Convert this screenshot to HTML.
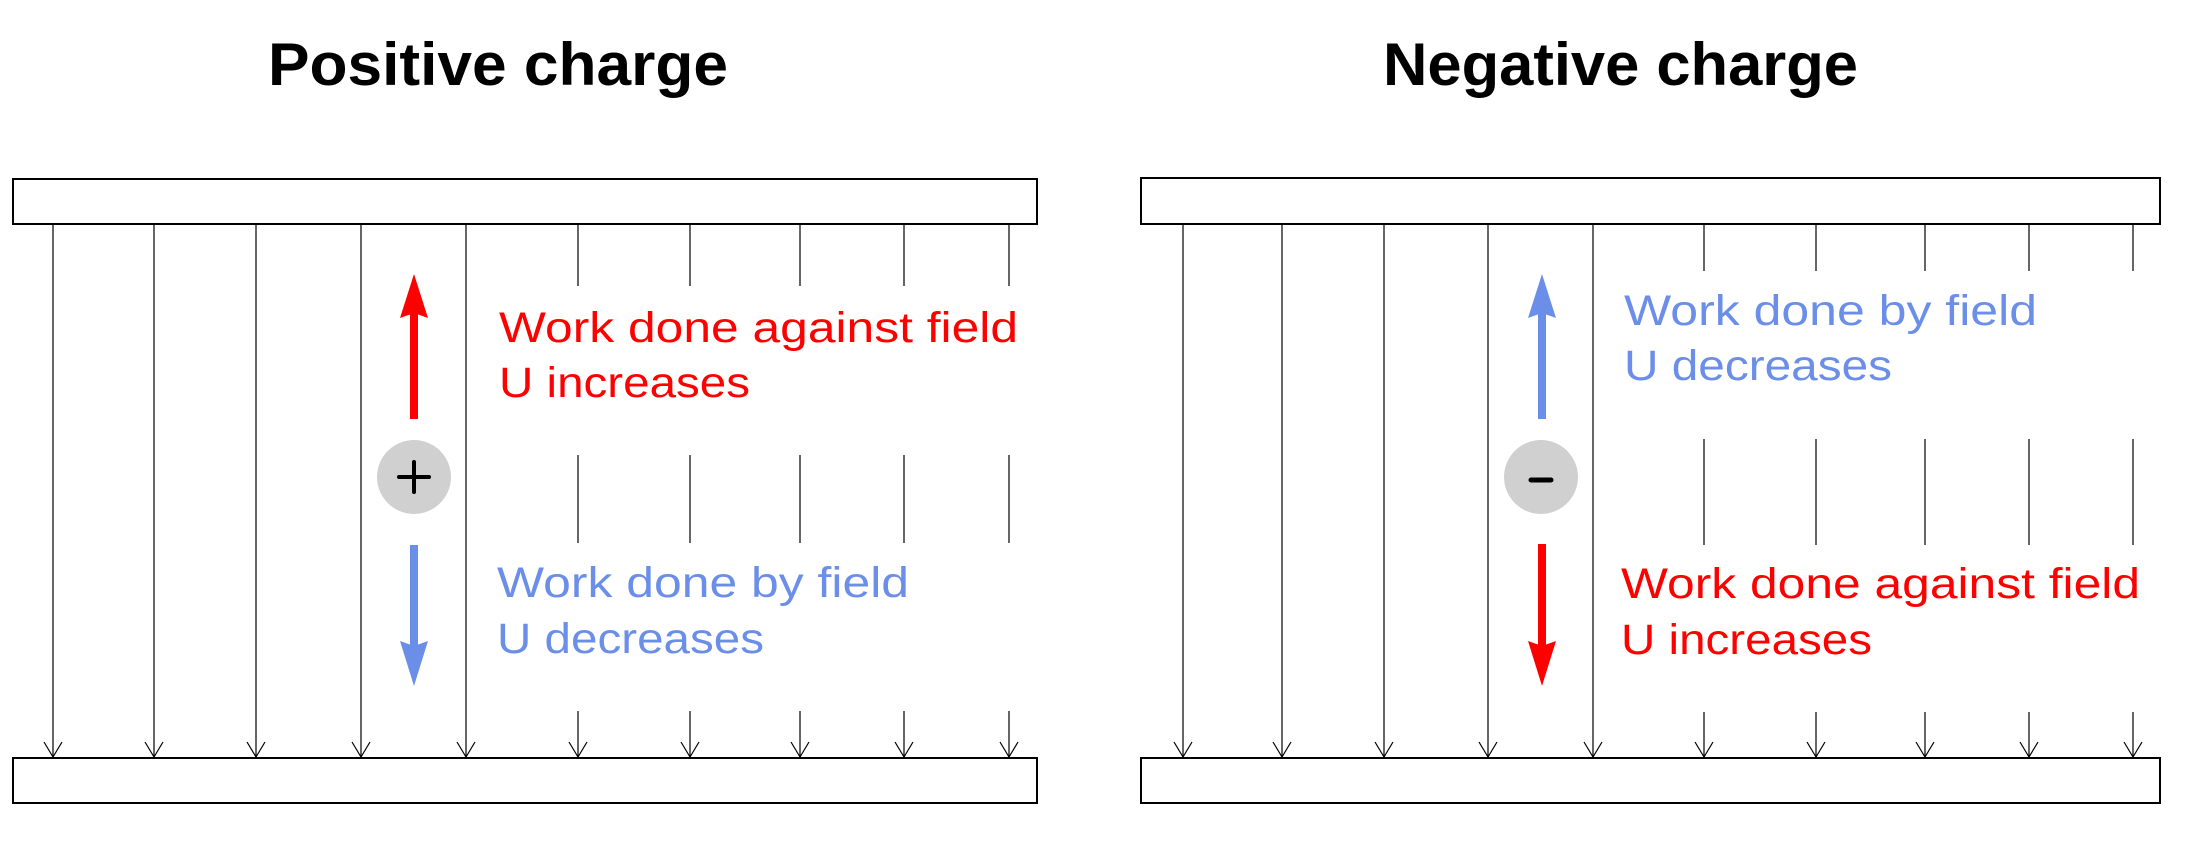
<!DOCTYPE html>
<html><head><meta charset="utf-8"><style>html,body{margin:0;padding:0;background:#fff}svg{display:block}</style></head>
<body>
<svg width="2208" height="852" viewBox="0 0 2208 852" xmlns="http://www.w3.org/2000/svg" font-family="Liberation Sans, sans-serif">
<text x="268" y="85" font-size="60" font-weight="bold" textLength="460" lengthAdjust="spacingAndGlyphs">Positive charge</text>
<text x="1383" y="85" font-size="60" font-weight="bold" textLength="475" lengthAdjust="spacingAndGlyphs">Negative charge</text>

<g fill="#fff" stroke="#000" stroke-width="2">
<rect x="13" y="179" width="1024" height="45"/>
<rect x="13" y="758" width="1024" height="45"/>
<rect x="1141" y="178" width="1019" height="46"/>
<rect x="1141" y="758" width="1019" height="45"/>
</g>

<g stroke="#000" stroke-width="1.2" fill="none">
<path d="M53,225V757 M154,225V757 M256,225V757 M361,225V757 M466,225V757"/>
<path d="M578,225V286 M690,225V286 M800,225V286 M904,225V286 M1009,225V286"/>
<path d="M578,455V543 M690,455V543 M800,455V543 M904,455V543 M1009,455V543"/>
<path d="M578,711V757 M690,711V757 M800,711V757 M904,711V757 M1009,711V757"/>
<path d="M44,742L53,757L62,742 M145,742L154,757L163,742 M247,742L256,757L265,742 M352,742L361,757L370,742 M457,742L466,757L475,742 M569,742L578,757L587,742 M681,742L690,757L699,742 M791,742L800,757L809,742 M895,742L904,757L913,742 M1000,742L1009,757L1018,742"/>

<path d="M1183,225V757 M1282,225V757 M1384,225V757 M1488,225V757 M1593,225V757"/>
<path d="M1704,225V271 M1816,225V271 M1925,225V271 M2029,225V271 M2133,225V271"/>
<path d="M1704,439V545 M1816,439V545 M1925,439V545 M2029,439V545 M2133,439V545"/>
<path d="M1704,712V757 M1816,712V757 M1925,712V757 M2029,712V757 M2133,712V757"/>
<path d="M1174,742L1183,757L1192,742 M1273,742L1282,757L1291,742 M1375,742L1384,757L1393,742 M1479,742L1488,757L1497,742 M1584,742L1593,757L1602,742 M1695,742L1704,757L1713,742 M1807,742L1816,757L1825,742 M1916,742L1925,757L1934,742 M2020,742L2029,757L2038,742 M2124,742L2133,757L2142,742"/>
</g>

<!-- left charge -->
<rect x="410" y="312" width="8" height="107" fill="#ff0000"/>
<path d="M414,274 L428,318 L414,313 L400,318 Z" fill="#ff0000"/>
<circle cx="414" cy="477" r="37" fill="#d0d0d0"/>
<path d="M399,477 H429 M414,462 V492" stroke="#000" stroke-width="4" stroke-linecap="round"/>
<rect x="410" y="545" width="8" height="102" fill="#6b8ee8"/>
<path d="M414,686 L428,641 L414,646 L400,641 Z" fill="#6b8ee8"/>

<!-- right charge -->
<rect x="1538" y="312" width="8" height="107" fill="#6b8ee8"/>
<path d="M1542,274 L1556,318 L1542,313 L1528,318 Z" fill="#6b8ee8"/>
<circle cx="1541" cy="477" r="37" fill="#d0d0d0"/>
<path d="M1531,480 H1551" stroke="#000" stroke-width="5" stroke-linecap="round"/>
<rect x="1538" y="544" width="8" height="103" fill="#ff0000"/>
<path d="M1542,686 L1556,641 L1542,646 L1528,641 Z" fill="#ff0000"/>

<g font-size="43">
<text x="499" y="342" fill="#ff0000" textLength="519" lengthAdjust="spacingAndGlyphs">Work done against field</text>
<text x="499" y="397" fill="#ff0000" textLength="251" lengthAdjust="spacingAndGlyphs">U increases</text>
<text x="497" y="597" fill="#6b8ee8" textLength="412" lengthAdjust="spacingAndGlyphs">Work done by field</text>
<text x="497" y="653" fill="#6b8ee8" textLength="267" lengthAdjust="spacingAndGlyphs">U decreases</text>
<text x="1624" y="325" fill="#6b8ee8" textLength="413" lengthAdjust="spacingAndGlyphs">Work done by field</text>
<text x="1624" y="380" fill="#6b8ee8" textLength="268" lengthAdjust="spacingAndGlyphs">U decreases</text>
<text x="1621" y="598" fill="#ff0000" textLength="519" lengthAdjust="spacingAndGlyphs">Work done against field</text>
<text x="1621" y="654" fill="#ff0000" textLength="251" lengthAdjust="spacingAndGlyphs">U increases</text>
</g>
</svg>
</body></html>
